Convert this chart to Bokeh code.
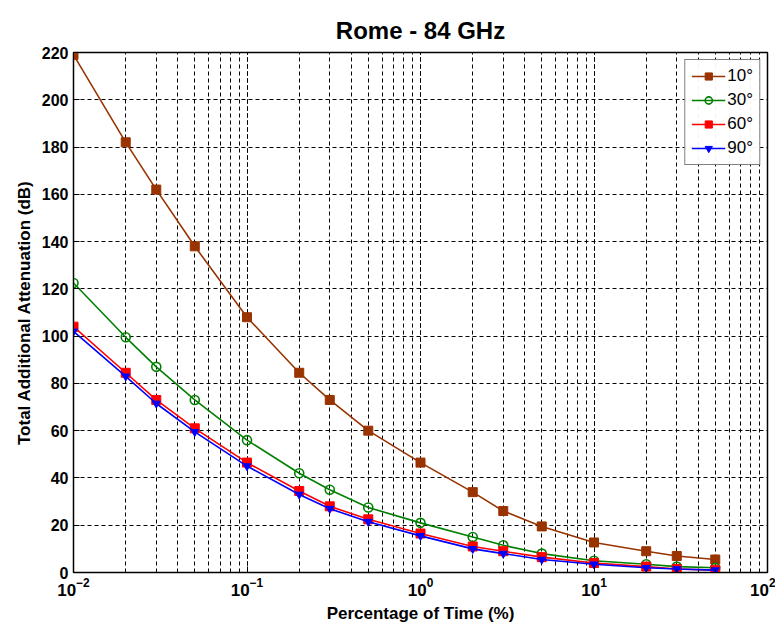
from bokeh.plotting import figure
from bokeh.models import Range1d, SingleIntervalTicker, Legend, LegendItem
from bokeh.embed import file_html
from bokeh.resources import INLINE

time_pct = [0.01, 0.02, 0.03, 0.05, 0.1, 0.2, 0.3, 0.5, 1, 2, 3, 5, 10, 20, 30, 50]
att_10 = [219, 182, 162, 138, 108, 84.5, 73, 60, 46.5, 34, 26, 19.5, 12.7, 9, 7, 5.5]
att_30 = [122.5, 99.5, 87, 73, 56, 42, 35, 27.5, 21, 15, 11.5, 8, 5, 3.5, 2.5, 2]
att_60 = [104, 84.5, 73, 61, 46.5, 34.5, 28, 22.5, 16.5, 11, 9, 6.5, 4, 2.5, 1.5, 1]
att_90 = [102, 83, 71.5, 59.5, 45, 33, 27, 21.5, 15.5, 10, 8, 5.5, 3.5, 2, 1.5, 1]
series_labels = ["10°", "30°", "60°", "90°"]
title_text = "Rome - 84 GHz"
x_label = "Percentage of Time (%)"
y_label = "Total Additional Attenuation (dB)"

FONT = "Liberation Sans"

p = figure(width=775, height=632, x_axis_type="log", output_backend="svg",
           toolbar_location=None, x_range=Range1d(0.01, 100), y_range=Range1d(0, 220),
           min_border_left=73, min_border_right=8, min_border_top=52, min_border_bottom=60)

p.title.text = title_text
p.title.text_font = FONT
p.title.text_font_size = "24px"
p.title.text_font_style = "bold"
p.title.text_color = "black"
p.title.align = "center"
p.title.standoff = 14
p.title.vertical_align = "top"

p.outline_line_color = "black"
p.outline_line_width = 1.5
p.background_fill_color = "white"
p.border_fill_color = "white"

xa = p.xaxis[0]
ya = p.yaxis[0]
ya.ticker = SingleIntervalTicker(interval=20, num_minor_ticks=0)
for ax in (xa, ya):
    ax.axis_label_text_font = FONT
    ax.axis_label_text_font_style = "bold"
    ax.axis_label_text_font_size = "17px"
    ax.axis_label_text_color = "black"
    ax.major_label_text_font = FONT
    ax.major_label_text_font_style = "bold"
    ax.major_label_text_color = "black"
    ax.major_tick_in = 6
    ax.major_tick_out = 0
    ax.minor_tick_in = 3
    ax.minor_tick_out = 0
    ax.axis_line_color = "black"
    ax.major_tick_line_color = "black"
    ax.minor_tick_line_color = "black"
    ax.axis_label_standoff = 5
xa.major_label_text_font_size = "17px"
ya.major_label_text_font_size = "16px"
xa.axis_label = x_label
ya.axis_label = y_label

p.xgrid.grid_line_color = "black"
p.xgrid.grid_line_dash = "4 3"
p.xgrid.minor_grid_line_color = "black"
p.xgrid.minor_grid_line_dash = "4 3"
p.ygrid.grid_line_color = "black"
p.ygrid.grid_line_dash = "4 3"

colors = ["#993300", "#008000", "#FF0000", "#0000FF"]
data = [att_10, att_30, att_60, att_90]
items = []
for i, (ys, c, lab) in enumerate(zip(data, colors, series_labels)):
    ln = p.line(time_pct, ys, line_color=c, line_width=1.6)
    if i == 1:
        mk = p.scatter(time_pct, ys, marker="circle", size=9, fill_color=None,
                       line_color=c, line_width=1.6)
    elif i == 3:
        mk = p.scatter(time_pct, ys, marker="inverted_triangle", size=8,
                       fill_color=c, line_color=c)
    else:
        mk = p.scatter(time_pct, ys, marker="square", size=9, fill_color=c, line_color=c)
    items.append(LegendItem(label=lab, renderers=[ln, mk]))

legend = Legend(items=items, location="top_right")
legend.label_text_font = FONT
legend.label_text_font_size = "17px"
legend.label_text_color = "black"
legend.glyph_width = 34
legend.glyph_height = 18
legend.spacing = 4
legend.padding = 6
legend.margin = 7
legend.border_line_color = "black"
legend.border_line_width = 1
legend.label_standoff = 2
p.add_layout(legend)

open("out.html", "w").write(file_html(p, INLINE))
